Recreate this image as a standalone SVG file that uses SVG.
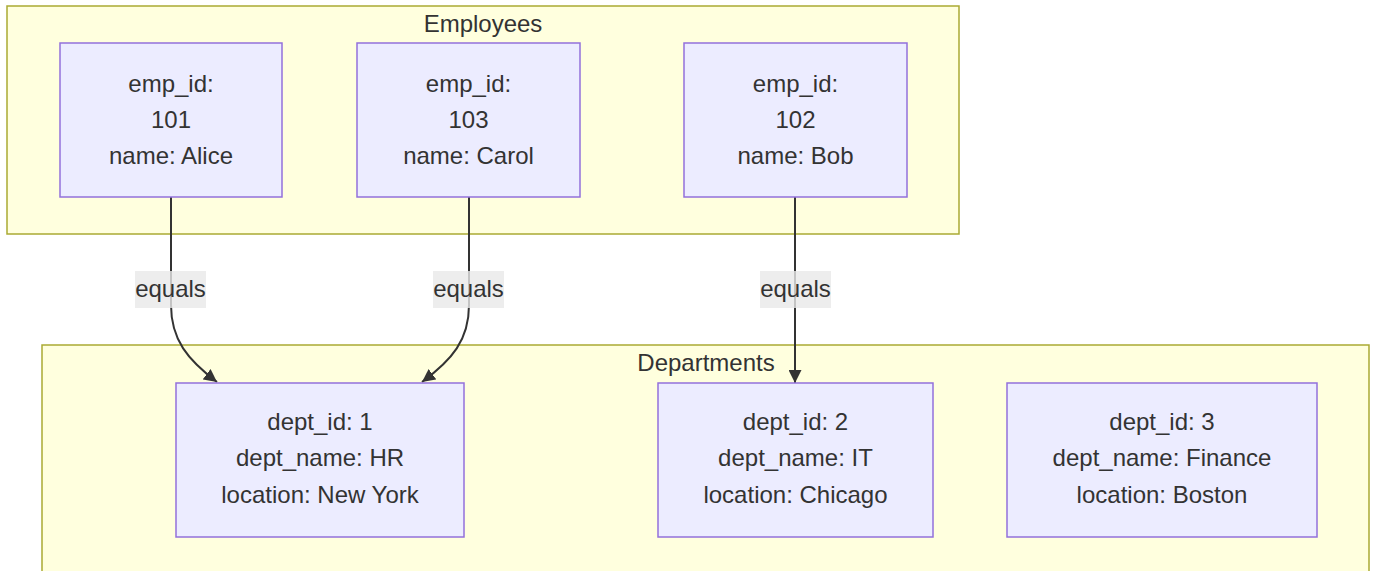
<svg xmlns="http://www.w3.org/2000/svg" width="1374" height="571" viewBox="0 0 1374 571">
<style>
.cluster{fill:#ffffde;stroke:#aaaa33;stroke-width:1.5}
.node{fill:#ececff;stroke:#9370DB;stroke-width:1.5}
text{font-family:"Liberation Sans",Arial,Helvetica,sans-serif;font-size:24px;fill:#333333;text-anchor:middle}
.edge{fill:none;stroke:#333333;stroke-width:2}
.lbl{fill:#e8e8e8;fill-opacity:0.8}
</style>
<defs>
<marker id="arrow" viewBox="0 0 10 10" refX="10" refY="5" markerUnits="userSpaceOnUse" markerWidth="13" markerHeight="13" orient="auto">
<path d="M0,0 L10,5 L0,10 z" fill="#333333"/>
</marker>
</defs>
<rect width="1374" height="571" fill="#ffffff"/>
<g id="cluster-employees">
<rect class="cluster" x="7" y="6" width="952" height="228"/>
<text x="483" y="32">Employees</text>
</g>
<g id="cluster-departments">
<rect class="cluster" x="42" y="345" width="1327" height="240"/>
<text x="706" y="371">Departments</text>
</g>
<g id="edges">
<path class="edge" d="M171,197 L171,305 C171,340 188,360 217,382" marker-end="url(#arrow)"/>
<path class="edge" d="M469,197 L469,305 C469,340 452,360 422,382" marker-end="url(#arrow)"/>
<path class="edge" d="M795,197 L795,383" marker-end="url(#arrow)"/>
<g id="edge-label-1"><rect class="lbl" x="135" y="271" width="71" height="37"/><text x="170.5" y="297">equals</text></g>
<g id="edge-label-2"><rect class="lbl" x="433" y="271" width="71" height="37"/><text x="468.5" y="297">equals</text></g>
<g id="edge-label-3"><rect class="lbl" x="760" y="271" width="71" height="37"/><text x="795.5" y="297">equals</text></g>
</g>
<g id="emp-alice">
<rect class="node" x="60" y="43" width="222" height="154"/>
<text x="171" y="92">emp_id:</text>
<text x="171" y="128">101</text>
<text x="171" y="164">name: Alice</text>
</g>
<g id="emp-carol">
<rect class="node" x="357" y="43" width="223" height="154"/>
<text x="468.5" y="92">emp_id:</text>
<text x="468.5" y="128">103</text>
<text x="468.5" y="164">name: Carol</text>
</g>
<g id="emp-bob">
<rect class="node" x="684" y="43" width="223" height="154"/>
<text x="795.5" y="92">emp_id:</text>
<text x="795.5" y="128">102</text>
<text x="795.5" y="164">name: Bob</text>
</g>
<g id="dept-hr">
<rect class="node" x="176" y="383" width="288" height="154"/>
<text x="320" y="430">dept_id: 1</text>
<text x="320" y="466">dept_name: HR</text>
<text x="320" y="503">location: New York</text>
</g>
<g id="dept-it">
<rect class="node" x="658" y="383" width="275" height="154"/>
<text x="795.5" y="430">dept_id: 2</text>
<text x="795.5" y="466">dept_name: IT</text>
<text x="795.5" y="503">location: Chicago</text>
</g>
<g id="dept-finance">
<rect class="node" x="1007" y="383" width="310" height="154"/>
<text x="1162" y="430">dept_id: 3</text>
<text x="1162" y="466">dept_name: Finance</text>
<text x="1162" y="503">location: Boston</text>
</g>
</svg>
